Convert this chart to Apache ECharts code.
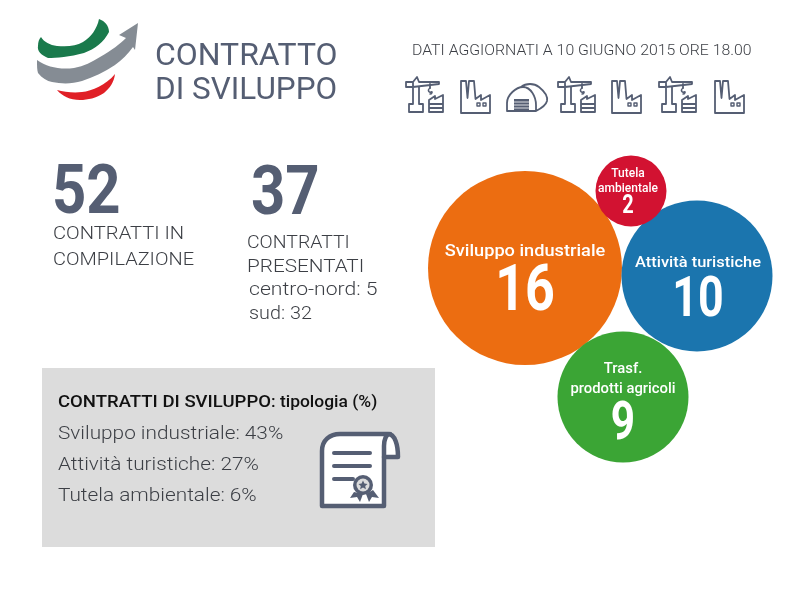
<!DOCTYPE html>
<html>
<head>
<meta charset="utf-8">
<script src="https://cdn.jsdelivr.net/npm/echarts@6/dist/echarts.min.js"></script>
<style>html,body{margin:0;background:#fff}#chart{width:800px;height:600px}</style>
</head>
<body>
<div id="chart"></div>
<script>
// dati
var bubbleCategories = ['Sviluppo industriale', 'Attività turistiche', 'Trasf.\nprodotti agricoli', 'Tutela\nambientale'];
var bubbleValues = [16, 10, 9, 2];
var typeLabels = ['Sviluppo industriale', 'Attività turistiche', 'Tutela ambientale'];
var typeShares = [43, 27, 6];
var compiling = 52;
var presented = 37;
var presentedNorth = 5;
var presentedSouth = 32;

// posizione delle bolle sugli assi nascosti (0-800 / 0-600)
var bubbleX = [525, 697, 623, 631];
var bubbleY = [268, 276, 397, 191];

// aspetto delle bolle, per indice
var bubbleColors = ['#ec6d11', '#1b75ae', '#3ba535', '#d21231'];
var bubbleDiam = [194, 151, 131, 71];
var nameFont = [17, 15.5, 14, 12];
var nameScale = [1.07, 1.06, 1.06, 1];
var numFont = [65, 56, 53, 25];
var nameDy = [[-16], [-13], [-28, -8], [-17, -2]];
var numDy = [26, 26, 29, 16];
var labelDx = [0, 1, 0, -3];

var SLATE = '#555e73';
var TEXT = '#3c3f45';
var FONT = 'Roboto';

// y = linea di base del testo
function txt(x, y, s, size, color, extra) {
    extra = extra || {};
    var st = {x: 0, y: 0, text: s, fontFamily: FONT, fontSize: size, fill: color || TEXT, fontWeight: extra.weight || 300};
    if (extra.rich) st.rich = extra.rich;
    return {type: 'text', x: x, y: y - size * 0.76, scaleX: extra.sx || 1, style: st};
}
// il componente graphic non ha il tipo path: registro una forma per ogni tracciato
var shapeCount = 0;
function shape(d, fill, stroke, lw) {
    var name = 'pathShape' + (shapeCount++);
    echarts.graphic.registerShape(name, echarts.graphic.extendPath(d, {}));
    return {type: name, style: {fill: fill || null, stroke: stroke || null, lineWidth: lw || 0, lineCap: 'round', lineJoin: 'round'}};
}

// icone
function crane(x, y) {
    return {type: 'group', x: x, y: y, children: [
        shape('M8 11V28H4V36H18V28H14V11M1 6H8V11H1ZM8 6L12 1L14 6H34L34 8L8 11M25 8V12', null, SLATE, 1.8),
        shape('M25 12C22 14 24 17 26 16C28 15 27 18 25 18', null, SLATE, 1.5),
        shape('M24 36V24L30 20V23L38 19V36ZM24 28H38M24 32H38', null, SLATE, 1.8)
    ]};
}
function factory(x, y) {
    return {type: 'group', x: x, y: y, children: [
        shape('M1 37V5H6L7.5 22L9 5H14L15.5 23L21 19V24L30 19V37ZM1 37H30', null, SLATE, 1.8),
        shape('M17 27h3v3h-3zM23 27h3v3h-3z', null, SLATE, 1.4)
    ]};
}
function hangar(x, y) {
    return {type: 'group', x: x, y: y, children: [
        shape('M1 28V20C1 12 10 4 17 4C25 4 30 14 30 22V28ZM15 4C20 0 28 0 33 4C38 8 42 13 41 18C40 22 34 26 30 28', null, SLATE, 1.8),
        shape('M8 16H23V28H8Z', SLATE, null, 0),
        shape('M8 19H23M8 22H23M8 25H23', null, '#fff', 0.8)
    ]};
}
var iconRow = [crane(405, 76), factory(460, 76), hangar(506, 83), crane(557, 76), factory(611, 76), crane(658, 76), factory(714, 76)];

// logo
var logo = [
    shape('M99 19C105 21 109 26 109 32C104 42 95 49 84 53C70 57 56 58 48 58C41 55 37 51 38 46C38 42 39 39 41 37C44 42 50 45 57 46C68 47 76 46 83 42C91 37 97 29 99 19Z', '#1a7a4c'),
    shape('M138 23L119 35L126 38C120 44 112 50 100 57C92 62 84 66 74 68C60 70 47 67 37 60C37 66 37 70 38 73C42 78 47 81 52 82C62 84 72 84 82 81C94 77 104 72 115 65C122 60 128 54 133 47L135 50Z', '#858c94'),
    shape('M115 74C114 82 110 88 104 93C96 98 88 100 80 100C70 100 62 96 57 90C64 92 74 93 82 92C92 91 106 85 115 74Z', '#e01f26')
];

// pergamena
var certificate = [
    shape('M322 506V451C322 440 330 434 340 434H388C395 434 398 445 398 457H384V506Z', '#fff', SLATE, 4.5),
    shape('M384 457V446C384 440 386 434 390 434', null, SLATE, 4.5),
    shape('M334 453H370M334 466H370M334 479H353', null, SLATE, 4),
    shape('M354 492L350 498L357 497L360 502L363 494ZM366 494L369 502L372 497L379 498L373 490Z', SLATE),
    {type: 'circle', shape: {cx: 363, cy: 485, r: 10}, style: {fill: SLATE}},
    {type: 'circle', shape: {cx: 363, cy: 485, r: 6.5}, style: {fill: '#dcdcdc'}},
    shape('M363 480.5L364.4 483.5L367.6 483.9L365.2 486L365.9 489.2L363 487.6L360.1 489.2L360.8 486L358.4 483.9L361.6 483.5Z', SLATE)
];

var texts = [
    txt(155, 65, 'CONTRATTO', 31, SLATE, {sx: 1.03, weight: 400}),
    txt(155, 99, 'DI SVILUPPO', 31, SLATE, {sx: 1.015, weight: 400}),
    txt(412, 55, 'DATI AGGIORNATI A 10 GIUGNO 2015 ORE 18.00', 15, TEXT, {sx: 1.055}),
    txt(52, 214, String(compiling), 68, SLATE, {weight: 'bold', sx: 0.88}),
    txt(53, 239, 'CONTRATTI IN', 18, TEXT, {sx: 1.12}),
    txt(53, 265, 'COMPILAZIONE', 18, TEXT, {sx: 1.11}),
    txt(251, 215, String(presented), 68, SLATE, {weight: 'bold', sx: 0.88}),
    txt(247, 248, 'CONTRATTI', 18, TEXT, {sx: 1.08}),
    txt(247, 272, 'PRESENTATI', 18, TEXT, {sx: 1.15}),
    txt(249, 295, 'centro-nord: ' + presentedNorth, 18, TEXT, {sx: 1.175}),
    txt(249, 319, 'sud: ' + presentedSouth, 18, TEXT, {sx: 1.1}),
    txt(58, 407, '{b|CONTRATTI DI SVILUPPO}{m|: tipologia (%)}', 17, '#111', {sx: 1.09, rich: {
        b: {fontFamily: FONT, fontSize: 17, fontWeight: 500, fill: '#111'},
        m: {fontFamily: FONT, fontSize: 16, fontWeight: 500, fill: '#111'}
    }})
];
typeLabels.forEach(function (name, i) {
    texts.push(txt(58, 439 + i * 31, name + ': ' + typeShares[i] + '%', 18, TEXT, {sx: 1.155}));
});

function renderBubble(params, api) {
    var i = params.dataIndex;
    var c = api.coord([api.value(0), api.value(1)]);
    var tx = c[0] + labelDx[i];
    var children = [{type: 'circle', shape: {cx: c[0], cy: c[1], r: bubbleDiam[i] / 2}, style: {fill: bubbleColors[i]}}];
    bubbleCategories[i].split('\n').forEach(function (line, k) {
        children.push({type: 'text', x: tx, y: c[1] + nameDy[i][k], scaleX: nameScale[i], style: {
            text: line, fill: '#fff', fontFamily: FONT, fontWeight: 500, fontSize: nameFont[i], align: 'center', verticalAlign: 'middle'
        }});
    });
    children.push({type: 'text', x: tx, y: c[1] + numDy[i], scaleX: 0.8, style: {
        text: String(api.value(2)), fill: '#fff', fontFamily: FONT, fontWeight: 'bold', fontSize: numFont[i], align: 'center', verticalAlign: 'middle'
    }});
    return {type: 'group', children: children};
}

var chart = echarts.init(document.getElementById('chart'), null, {renderer: 'canvas'});
var option = {
    animation: false,
    backgroundColor: '#fff',
    grid: {left: 0, right: 0, top: 0, bottom: 0},
    xAxis: {type: 'value', min: 0, max: 800, show: false},
    yAxis: {type: 'value', min: 0, max: 600, inverse: true, show: false},
    graphic: {elements: [
        {type: 'rect', shape: {x: 42, y: 368, width: 393, height: 179}, style: {fill: '#dcdcdc'}}
    ].concat(logo, iconRow, certificate, texts)},
    series: [{
        type: 'custom',
        silent: true,
        clip: false,
        renderItem: renderBubble,
        encode: {x: 0, y: 1},
        data: bubbleValues.map(function (v, i) {
            return [bubbleX[i], bubbleY[i], v];
        })
    }]
};
chart.setOption(option);
</script>
</body>
</html>
